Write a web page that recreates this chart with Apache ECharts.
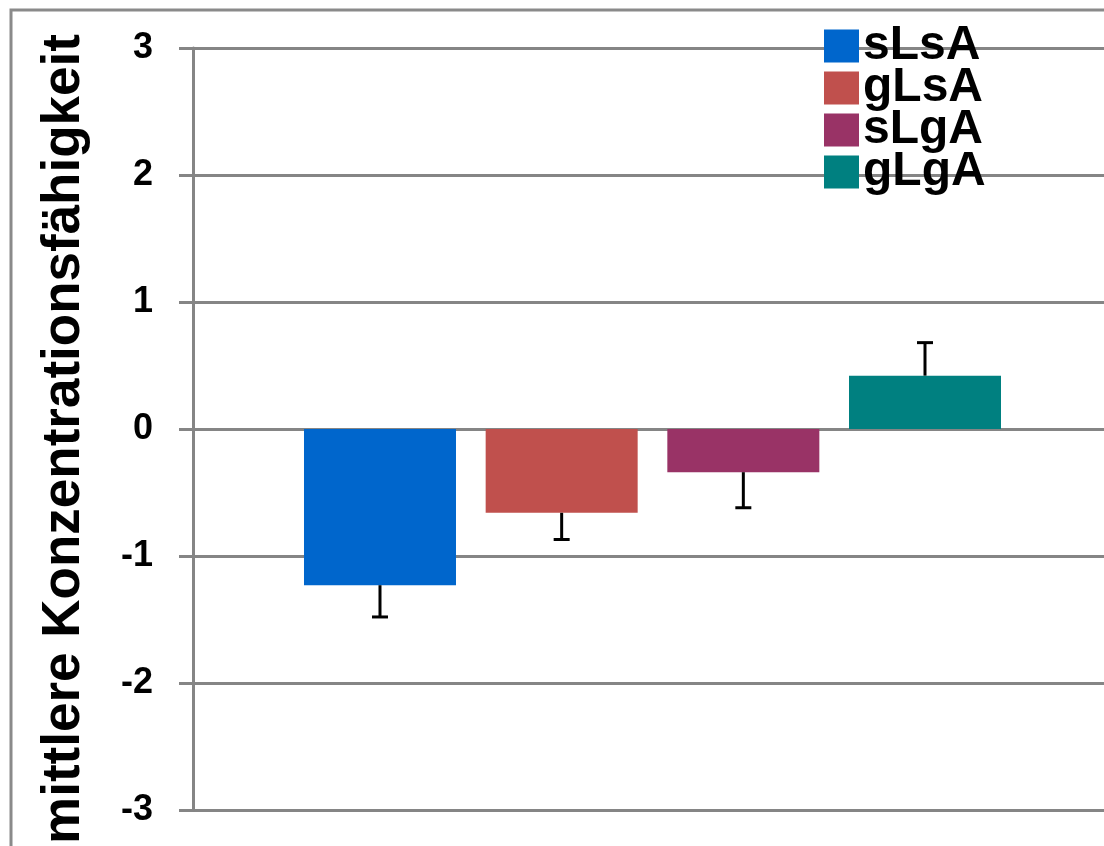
<!DOCTYPE html>
<html>
<head>
<meta charset="utf-8">
<script src="https://cdn.jsdelivr.net/npm/echarts@6/dist/echarts.min.js"></script>
<style>html,body{margin:0;padding:0;background:#fff}#c{width:1104px;height:846px}</style>
</head>
<body>
<div id="c"></div>
<script>
const seriesNames = ['sLsA', 'gLsA', 'sLgA', 'gLgA'];
const seriesColors = ['#0066CC', '#C0504D', '#993366', '#008080'];
const barValues = [-1.23, -0.66, -0.34, 0.42];
const errorEnds = [-1.48, -0.87, -0.62, 0.68];
const yTicks = [-3, -2, -1, 0, 1, 2, 3];
const yAxisTitle = 'mittlere Konzentrationsfähigkeit';

const chart = echarts.init(document.getElementById('c'));
const font = '"Liberation Sans", Arial, sans-serif';
const gray = '#858585';

const barSeries = seriesNames.map((name, i) => ({
  name: name,
  type: 'bar',
  data: [[i + 1, barValues[i]]],
  barWidth: 152,
  barGap: '-100%',
  itemStyle: { color: seriesColors[i] },
  z: 3
}));

const errSeries = {
  type: 'custom',
  name: 'err',
  data: barValues.map((v, i) => [i + 1, v, errorEnds[i]]),
  renderItem: function (params, api) {
    const x = api.value(0);
    const p0 = api.coord([x, api.value(1)]);
    const p1 = api.coord([x, api.value(2)]);
    const cap = 8;
    return {
      type: 'group',
      children: [
        { type: 'line', shape: { x1: p0[0], y1: p0[1], x2: p1[0], y2: p1[1] }, style: { stroke: '#000', lineWidth: 3 } },
        { type: 'line', shape: { x1: p1[0] - cap, y1: p1[1], x2: p1[0] + cap, y2: p1[1] }, style: { stroke: '#000', lineWidth: 3 } }
      ]
    };
  },
  z: 5
};

chart.setOption({
  animation: false,
  backgroundColor: '#fff',
  grid: { left: 193, right: 0, top: 48, bottom: 36, containLabel: false, outerBoundsMode: 'none' },
  legend: {
    data: seriesNames,
    orient: 'vertical',
    left: 819,
    top: 17,
    itemWidth: 35,
    itemHeight: 33,
    itemGap: -6,
    icon: 'rect',
    textStyle: { fontFamily: font, fontWeight: 'bold', fontSize: 48, color: '#000', padding: [0, 0, 0, -1] }
  },
  xAxis: {
    type: 'value',
    min: -0.0293,
    max: 4.9853,
    show: false,
    splitLine: { show: false }
  },
  yAxis: {
    type: 'value',
    min: yTicks[0],
    max: yTicks[yTicks.length - 1],
    interval: 1,
    name: yAxisTitle,
    nameLocation: 'middle',
    nameRotate: 90,
    nameGap: 102,
    nameTextStyle: { fontFamily: font, fontWeight: 'bold', fontSize: 53, color: '#000', padding: [0, 20, 0, 0] },
    axisLine: { show: true, onZero: false, lineStyle: { color: gray, width: 3 } },
    axisTick: { show: true, length: 14, lineStyle: { color: gray, width: 3 } },
    axisLabel: { margin: 40, fontFamily: font, fontWeight: 'bold', fontSize: 36, color: '#000' },
    splitLine: { show: true, lineStyle: { color: gray, width: 3 } }
  },
  graphic: [
    { type: 'polyline', shape: { points: [[11, 846], [11, 10], [1104, 10]] }, style: { stroke: '#8a8a8a', lineWidth: 3, fill: null }, silent: true }
  ],
  series: barSeries.concat([errSeries])
});
</script>
</body>
</html>
